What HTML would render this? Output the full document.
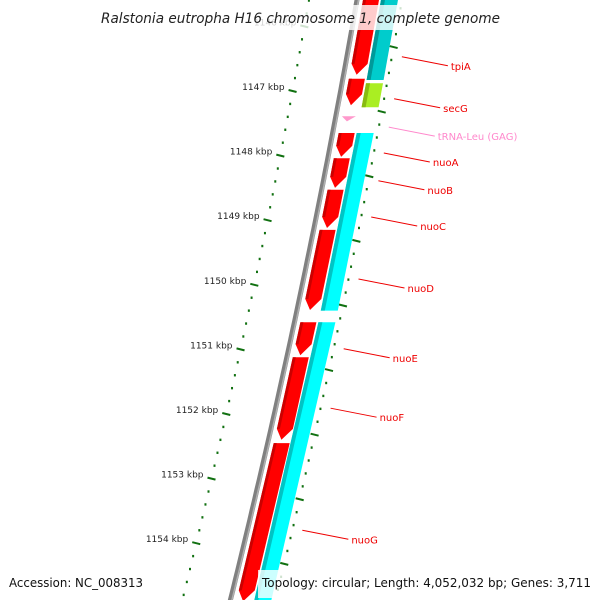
<!DOCTYPE html>
<html><head><meta charset="utf-8"><style>
body{margin:0;background:#fff}
svg{display:block}
text{font-family:"DejaVu Sans","Liberation Sans",sans-serif}
</style></head><body>
<svg id="map" width="600" height="600" viewBox="0 0 600 600"></svg>
<script>
// data
const tickKbp = [1146,1147,1148,1149,1150,1151,1152,1153,1154];
const redStart = [1145.40,1146.81,1147.65,1148.04,1148.53,1149.15,1150.58,1151.12,1152.45];
const redEnd   = [1146.75,1147.22,1148.02,1148.50,1149.12,1150.39,1151.09,1152.40,1154.90];
const cyanStart = [1145.40,1146.88,1147.65,1150.58];
const cyanEnd   = [1146.83,1147.25,1150.40,1154.95];
const cyanKind  = ['teal','green','cyan','cyan'];
const trnaKbp = [1147.42];
const labelNames = ['tpiA','secG','tRNA-Leu (GAG)','nuoA','nuoB','nuoC','nuoD','nuoE','nuoF','nuoG'];
const labelKbp   = [1146.47,1147.12,1147.56,1147.96,1148.39,1148.95,1149.91,1150.99,1151.91,1153.80];

const NS='http://www.w3.org/2000/svg';
const svg=document.getElementById('map');
function Y(k){return 91+(k-1147)*64.6;}
function gx(y){return 357-0.175*y-0.00006*y*y;}
function P(k,off){const y=Y(k);return [gx(y)+off,y];}
function mk(tag,attrs,parent){const e=document.createElementNS(NS,tag);for(const a in attrs)e.setAttribute(a,attrs[a]);(parent||svg).appendChild(e);return e;}
function poly(pts){return pts.map(p=>p[0].toFixed(1)+','+p[1].toFixed(1)).join(' ');}

// backbone
let bpts=[];for(let y=-10;y<=610;y+=10)bpts.push([gx(y),y]);
const bb=mk('polyline',{points:poly(bpts),fill:'none',stroke:'#808080','stroke-width':5});


const bb2=mk('polyline',{points:poly(bpts.map(p=>[p[0]+1.5,p[1]])),fill:'none',stroke:'#b0b0b0','stroke-width':1.5});



// inner ruler ticks
for(let i=0;i<=50;i++){
  const kk=Math.round((1145.4+i*0.2)*10)/10;
  const [x,y]=P(kk,-48); if(y<-5||y>605)continue;
  const major=Math.abs(kk-Math.round(kk))<0.01;
  const t=mk('line',{x1:major?x-4:x-1,y1:major?y-1:y,x2:major?x+4:x+1,y2:major?y+1:y,stroke:'#107010','stroke-width':major?2:2.4});
  
  
}
tickKbp.forEach(k=>{
  const [x,y]=P(k,-48);
  const t=mk('text',{x:x-8,y:y-1,'font-size':9,'text-anchor':'end',fill:'#222'});
  t.textContent=k+' kbp';
  
  
});
// outer ruler ticks
for(let i=0;i<=50;i++){
  const kk=Math.round((1145.32+i*0.2)*100)/100;
  const [x,y]=P(kk,45); if(y<-5||y>605)continue;
  const major=i%5===0;
  const t=mk('line',{x1:major?x-4:x-1,y1:major?y-1:y,x2:major?x+4:x+1,y2:major?y+1:y,stroke:'#107010','stroke-width':major?2:2.4});
  
  
}
// cyan track
cyanStart.forEach((s,i)=>{
  const e=cyanEnd[i]; const a=P(s,24),b=P(s,41),c=P(e,41),d=P(e,24);
  const col=cyanKind[i]==='teal'?'#00cccc':cyanKind[i]==='green'?'#aaee22':'#00ffff';
  const dark=cyanKind[i]==='teal'?'#009999':cyanKind[i]==='green'?'#88bb11':'#00c4c4';
  const g=mk('polygon',{points:poly([a,b,c,d]),fill:col});
  
  
  const s2=mk('polygon',{points:poly([a,P(s,28),P(e,28),d]),fill:dark});
  
  
});
// red genes (reverse strand arrows)
redStart.forEach((s,i)=>{
  const e=redEnd[i]; const tip=0.17;
  const pts=[P(s,6),P(s,22),P(e-tip,22),P(e,13),P(e-tip,6)];
  const g=mk('polygon',{points:poly(pts),fill:'#ff0000'});
  
  
  const sh=mk('polygon',{points:poly([P(s,6),P(s,9),P(e-tip,9),P(e-tip,6)]),fill:'#cc0000'});
  
  
});
// tRNA
trnaKbp.forEach(k=>{
  const t=mk('polygon',{points:poly([P(k-0.03,6),P(k-0.03,20),P(k+0.05,12)]),fill:'#ff99cc'});
  
  
});
// labels
labelNames.forEach((n,i)=>{
  const [x,y]=P(labelKbp[i],55);
  const col=n.startsWith('tRNA')?'#ff88cc':'#ee0000';
  const l=mk('line',{x1:x,y1:y,x2:x+46,y2:y+9,stroke:col,'stroke-width':1});
  
  
  const t=mk('text',{x:x+49,y:y+13,'font-size':10,fill:col});
  t.textContent=n;
  
  
});
// title and footer
const tb=mk('rect',{x:95,y:5,width:412,height:25,fill:'#fff','fill-opacity':0.8});


const tt=mk('text',{x:101,y:23,'font-size':14,'font-style':'italic',textLength:399,lengthAdjust:'spacingAndGlyphs',fill:'#222'});
tt.textContent='Ralstonia eutropha H16 chromosome 1, complete genome';


const fb=mk('rect',{x:258,y:570,width:340,height:28,fill:'#fff','fill-opacity':0.8});


const fa=mk('text',{x:9,y:587,'font-size':12.5,textLength:134,lengthAdjust:'spacingAndGlyphs',fill:'#111'});
fa.textContent='Accession: NC_008313';


const ft=mk('text',{x:262,y:587,'font-size':12.5,textLength:329,lengthAdjust:'spacingAndGlyphs',fill:'#111'});
ft.textContent='Topology: circular; Length: 4,052,032 bp; Genes: 3,711';


</script>
</body></html>
